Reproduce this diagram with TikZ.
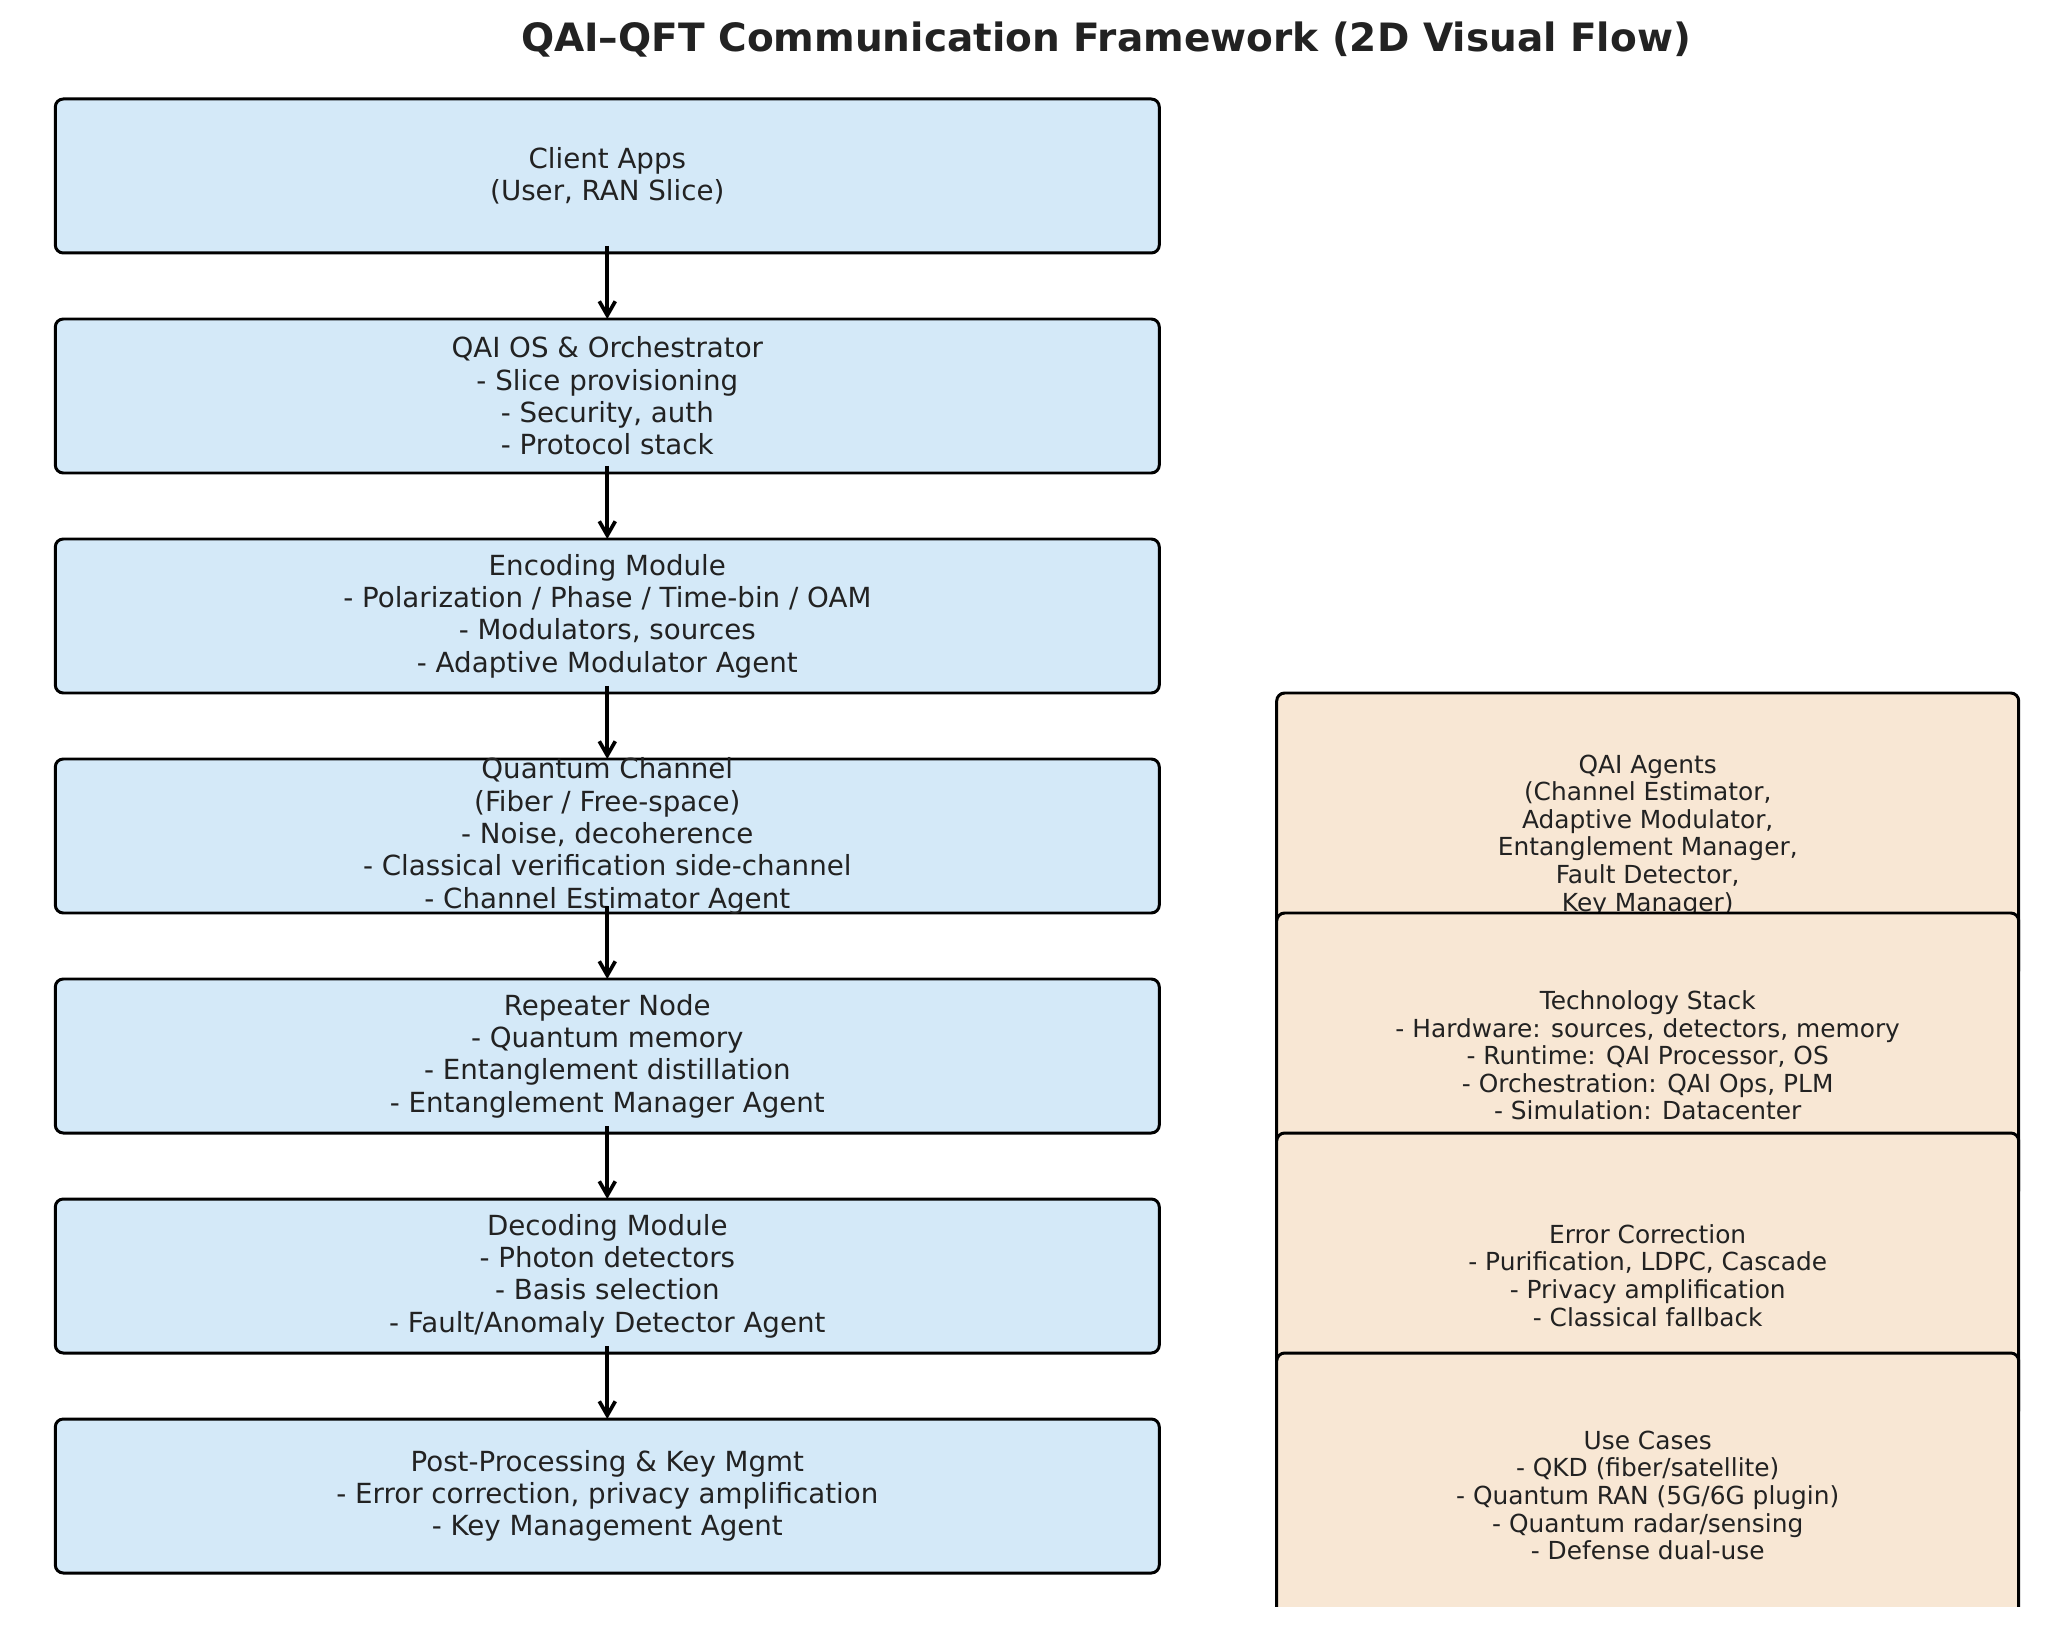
\documentclass[tikz,border=0pt]{standalone}
\usepackage{fontspec}
\setmainfont{DejaVu Sans}
\usepackage{xcolor}
\usepackage{tikz}
\usetikzlibrary{arrows.meta, positioning}
\definecolor{flowblue}{RGB}{212, 233, 248}
\definecolor{sidepeach}{RGB}{248, 231, 212}
\definecolor{inkgray}{RGB}{34, 34, 34}

\begin{document}
\begin{tikzpicture}[
    node distance=0.66cm,
    flowbox/.style={rectangle, draw=black, fill=flowblue, line width=0.85pt, minimum width=11.04cm, minimum height=1.54cm, outer sep=0pt, rounded corners=0.08cm},
    sidebox/.style={rectangle, draw=black, fill=sidepeach, line width=0.85pt, minimum width=7.42cm, minimum height=2.85cm, outer sep=0pt, rounded corners=0.08cm},
    flowtext/.style={align=center, text=inkgray, inner sep=0pt, font={\fontsize{7.88}{9.2}\selectfont}},
    sidetext/.style={align=center, text=inkgray, inner sep=0pt, font={\fontsize{7.07}{7.85}\selectfont}},
    arrow/.style={-{Straight Barb[length=1.4mm, width=1.6mm]}, line width=1.05pt}
]
\useasboundingbox (0,0) rectangle (20.53,-16.26);
\clip (0,0) rectangle (20.53,-16.06);

% Title
\node[anchor=base, text=inkgray, font={\fontsize{11.1}{13}\selectfont\bfseries}] (title) at (11.06,-0.517) {QAI–QFT Communication Framework (2D Visual Flow)};

% Main flow
\node[flowbox, anchor=north west, label={[flowtext]center:{Client Apps\\(User, RAN Slice)}}] (clientapps) at (0.553,-0.99) {};
\node[flowbox, below=of clientapps, label={[flowtext]center:{QAI OS \& Orchestrator\\- Slice provisioning\\- Security, auth\\- Protocol stack}}] (orchestrator) {};
\node[flowbox, below=of orchestrator, label={[flowtext]center:{Encoding Module\\- Polarization / Phase / Time-bin / OAM\\- Modulators, sources\\- Adaptive Modulator Agent}}] (encoding) {};
\node[flowbox, below=of encoding, label={[flowtext]center:{Quantum Channel\\(Fiber / Free-space)\\- Noise, decoherence\\- Classical verification side-channel\\- Channel Estimator Agent}}] (channel) {};
\node[flowbox, below=of channel, label={[flowtext]center:{Repeater Node\\- Quantum memory\\- Entanglement distillation\\- Entanglement Manager Agent}}] (repeater) {};
\node[flowbox, below=of repeater, label={[flowtext]center:{Decoding Module\\- Photon detectors\\- Basis selection\\- Fault/Anomaly Detector Agent}}] (decoding) {};
\node[flowbox, below=of decoding, label={[flowtext]center:{Post-Processing \& Key Mgmt\\- Error correction, privacy amplification\\- Key Management Agent}}] (postproc) {};

% Side panels
\node[sidebox, anchor=north west, label={[sidetext]center:{QAI Agents\\(Channel Estimator,\\Adaptive Modulator,\\Entanglement Manager,\\Fault Detector,\\Key Manager)}}] (agents) at ([xshift=1.174cm]encoding.south east) {};
\node[sidebox, below=-0.65cm of agents, label={[sidetext]center:{Technology Stack\\- Hardware: sources, detectors, memory\\- Runtime: QAI Processor, OS\\- Orchestration: QAI Ops, PLM\\- Simulation: Datacenter}}] (techstack) {};
\node[sidebox, below=-0.65cm of techstack, label={[sidetext]center:{Error Correction\\- Purification, LDPC, Cascade\\- Privacy amplification\\- Classical fallback}}] (errcorr) {};
\node[sidebox, below=-0.65cm of errcorr, label={[sidetext]center:{Use Cases\\- QKD (fiber/satellite)\\- Quantum RAN (5G/6G plugin)\\- Quantum radar/sensing\\- Defense dual-use}}] (usecases) {};

% Arrows
\draw[arrow] ([yshift=0.07cm]clientapps.south) -- (orchestrator.north);
\draw[arrow] ([yshift=0.07cm]orchestrator.south) -- (encoding.north);
\draw[arrow] ([yshift=0.07cm]encoding.south) -- (channel.north);
\draw[arrow] ([yshift=0.07cm]channel.south) -- (repeater.north);
\draw[arrow] ([yshift=0.07cm]repeater.south) -- (decoding.north);
\draw[arrow] ([yshift=0.07cm]decoding.south) -- (postproc.north);

\end{tikzpicture}
\end{document}
